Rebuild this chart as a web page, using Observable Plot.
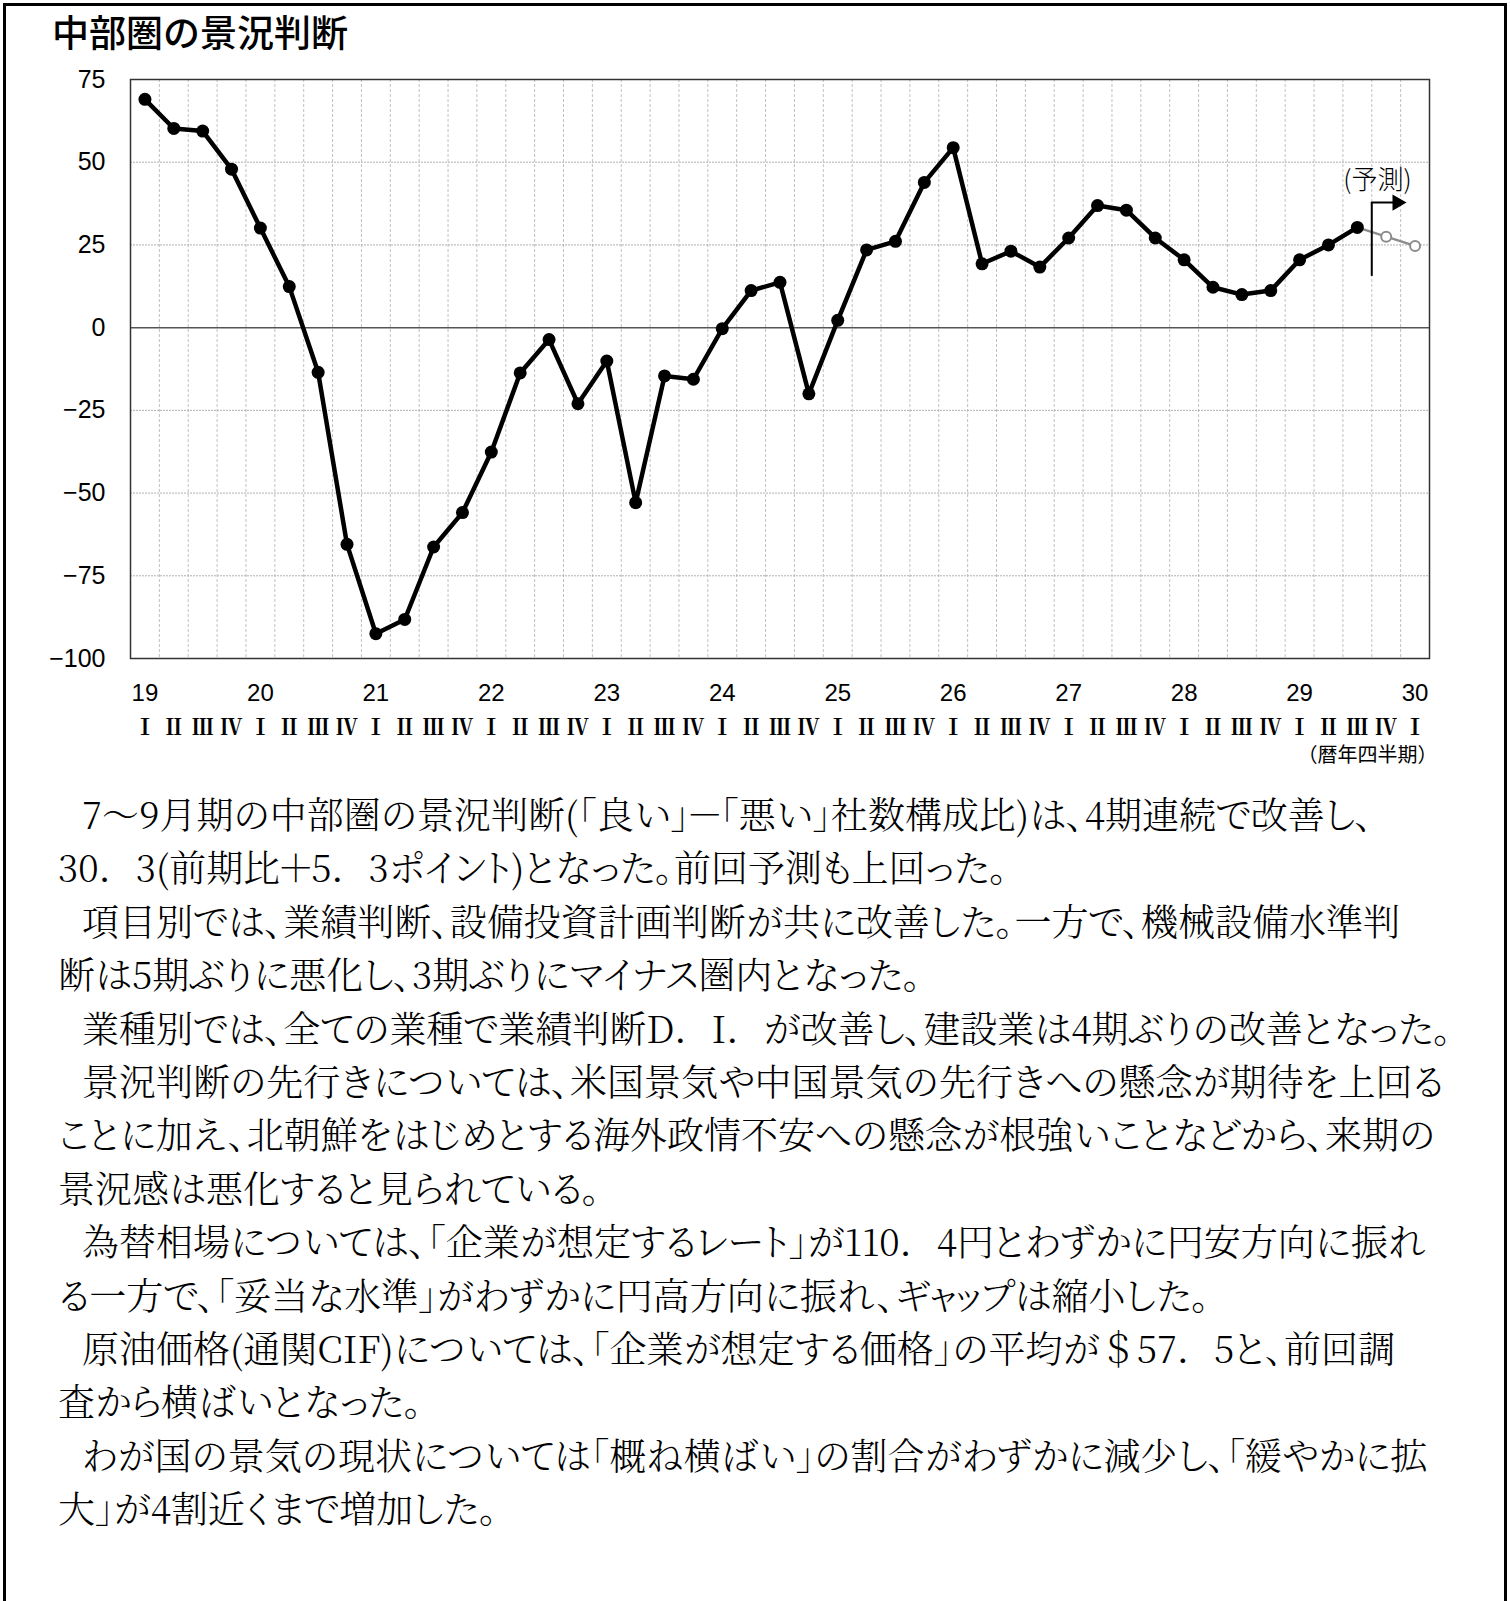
<!DOCTYPE html>
<html>
<head>
<meta charset="utf-8">
<script src="https://cdn.jsdelivr.net/npm/d3@7"></script>
<script src="https://cdn.jsdelivr.net/npm/@observablehq/plot@0.6"></script>
<style>
html,body{margin:0;padding:0;background:#fff;}
body{width:1510px;height:1601px;position:relative;overflow:hidden;font-family:"Noto Sans CJK JP",sans-serif;color:#000;}
#border{position:absolute;left:3px;top:3px;width:1504px;height:1640px;border:3px solid #000;border-bottom:none;box-sizing:border-box;}
#title{position:absolute;left:52px;top:7px;font-size:37px;line-height:48px;font-weight:500;white-space:nowrap;}
#chart{position:absolute;left:0;top:0;}
#text{position:absolute;left:58px;top:787px;font-size:37px;line-height:53.4px;font-weight:300;white-space:nowrap;
  font-family:"Noto Serif CJK JP","Noto Sans CJK JP",serif;font-feature-settings:"palt";}
#text .first{padding-left:24px;}
#text .fw{font-feature-settings:normal;}
</style>
</head>
<body>
<div id="border"></div>
<div id="chart"></div>
<div id="title">中部圏の景況判断</div>
<div id="text"></div>
<script>
// ---- data ----
const years = ["19","20","21","22","23","24","25","26","27","28","29","30"];
const quarters = ["Ⅰ","Ⅱ","Ⅲ","Ⅳ"];
// 19年Ⅰ期 〜 29年Ⅲ期 (actual)
const actualValues = [
  69.0, 60.2, 59.4, 47.9,
  30.1, 12.4, -13.5, -65.5,
  -92.5, -88.2, -66.3, -55.9,
  -37.6, -13.7, -3.6, -23.0,
  -10.1, -52.9, -14.6, -15.6,
  -0.3, 11.2, 13.7, -20.0,
  2.2, 23.5, 26.1, 43.9,
  54.4, 19.3, 23.1, 18.3,
  27.1, 36.9, 35.5, 27.1,
  20.5, 12.2, 10.0, 11.2,
  20.5, 25.0, 30.3
];
// 29年Ⅳ期, 30年Ⅰ期 (forecast)
const forecastValues = [27.5, 24.7];
const yTicks = [-100, -75, -50, -25, 0, 25, 50, 75];
const gridY = [-75, -50, -25, 25, 50];
const unitLabel = "（暦年四半期）";
const forecastLabel = "(予測)";

const paragraphs = [
  ["7～9月期の中部圏の景況判断(「良い」－「悪い」社数構成比)は、4期連続で改善し、",
   "30．3(前期比＋5．3ポイント)となった。前回予測も上回った。"],
  ["項目別では、業績判断、設備投資計画判断が共に改善した。一方で、機械設備水準判",
   "断は5期ぶりに悪化し、3期ぶりにマイナス圏内となった。"],
  ["業種別では、全ての業種で業績判断D．I．が改善し、建設業は4期ぶりの改善となった。"],
  ["景況判断の先行きについては、米国景気や中国景気の先行きへの懸念が期待を上回る",
   "ことに加え、北朝鮮をはじめとする海外政情不安への懸念が根強いことなどから、来期の",
   "景況感は悪化すると見られている。"],
  ["為替相場については、「企業が想定するレート」が110．4円とわずかに円安方向に振れ",
   "る一方で、「妥当な水準」がわずかに円高方向に振れ、ギャップは縮小した。"],
  ["原油価格(通関CIF)については、「企業が想定する価格」の平均が＄57．5と、前回調",
   "査から横ばいとなった。"],
  ["わが国の景気の現状については「概ね横ばい」の割合がわずかに減少し、「緩やかに拡",
   "大」が4割近くまで増加した。"]
];

// ---- derived tables ----
const nPeriods = (years.length - 1) * 4 + 1;
const periods = d3.range(nPeriods).map(i => ({
  i,
  year: i % 4 === 0 ? years[i / 4] : null,
  q: quarters[i % 4]
}));
const actual = actualValues.map((v, i) => ({i, v}));
const lastIdx = actual.length - 1;
const forecast = forecastValues.map((v, k) => ({i: lastIdx + 1 + k, v}));
const forecastLine = [actual[lastIdx], ...forecast];
const boundaries = d3.range(nPeriods - 1).map(i => i + 0.5);

const sans = "'Liberation Sans',Arial,sans-serif";
const cjk = "'Noto Sans CJK JP',sans-serif";
const cjkSerif = "'Noto Serif CJK JP','Noto Sans CJK JP',serif";

const splitX = lastIdx + 0.5;
const arrowY = 37.8;

const chart = Plot.plot({
  width: 1510,
  height: 770,
  marginLeft: 130,
  marginRight: 81,
  marginTop: 79,
  marginBottom: 112,
  x: {type: "linear", domain: [-0.5, nPeriods - 0.5], axis: null},
  y: {domain: [-100, 75], axis: null},
  style: {background: "transparent", color: "#000", fontFamily: cjk},
  marks: [
    Plot.ruleX(boundaries, {stroke: "#c0c0c0", strokeWidth: 1, strokeDasharray: "3,2"}),
    Plot.ruleY(gridY, {stroke: "#b0b0b0", strokeWidth: 1, strokeDasharray: "2,1"}),
    Plot.ruleY([0], {stroke: "#555", strokeWidth: 1.5}),
    Plot.frame({stroke: "#333", strokeWidth: 1.5}),
    Plot.axisY(yTicks, {label: null, tickSize: 0, tickPadding: 25, fontSize: 25, fontFamily: sans, fill: "#000"}),
    Plot.text(periods.filter(d => d.year), {x: "i", text: "year", frameAnchor: "bottom", dy: 42, fontSize: 24, fontFamily: sans, fill: "#000"}),
    Plot.text(periods, {x: "i", text: "q", frameAnchor: "bottom", dy: 76, fontSize: 22, fontWeight: 700, fontFamily: cjkSerif, fill: "#000"}),
    Plot.text([unitLabel], {x: nPeriods - 0.5, text: d => d, frameAnchor: "bottom", dy: 103, dx: 8, textAnchor: "end", fontSize: 20, fontFamily: cjk, fill: "#000"}),
    // forecast series
    Plot.line(forecastLine, {x: "i", y: "v", stroke: "#8c8c8c", strokeWidth: 2.5}),
    Plot.dot(forecast, {x: "i", y: "v", r: 5, stroke: "#8c8c8c", strokeWidth: 2, fill: "#fff"}),
    // actual series
    Plot.line(actual, {x: "i", y: "v", stroke: "#000", strokeWidth: 4.5}),
    Plot.dot(actual, {x: "i", y: "v", r: 6.5, fill: "#000"}),
    // forecast marker
    Plot.ruleX([splitX], {y1: 15.5, y2: arrowY, stroke: "#000", strokeWidth: 2}),
    Plot.line([{i: splitX, v: arrowY}, {i: splitX + 0.75, v: arrowY}], {x: "i", y: "v", stroke: "#000", strokeWidth: 2}),
    Plot.dot([{i: splitX + 0.88, v: arrowY}], {x: "i", y: "v", symbol: "triangle", rotate: 90, r: 6, fill: "#000"}),
    Plot.text([forecastLabel], {x: splitX + 0.2, y: 44.4, text: d => d, fontSize: 26, fontWeight: 300, fontFamily: cjk, fill: "#000"})
  ]
});
document.getElementById("chart").appendChild(chart);

// full-width period / dollar keep their full width (as in the original)
const textDiv = document.getElementById("text");
for (const para of paragraphs) {
  para.forEach((line, k) => {
    const div = document.createElement("div");
    if (k === 0) div.className = "first";
    for (const part of line.split(/([．＄])/)) {
      if (!part) continue;
      if (part === "．" || part === "＄") {
        const s = document.createElement("span");
        s.className = "fw";
        s.textContent = part;
        div.appendChild(s);
      } else {
        div.appendChild(document.createTextNode(part));
      }
    }
    textDiv.appendChild(div);
  });
}
</script>
</body>
</html>
